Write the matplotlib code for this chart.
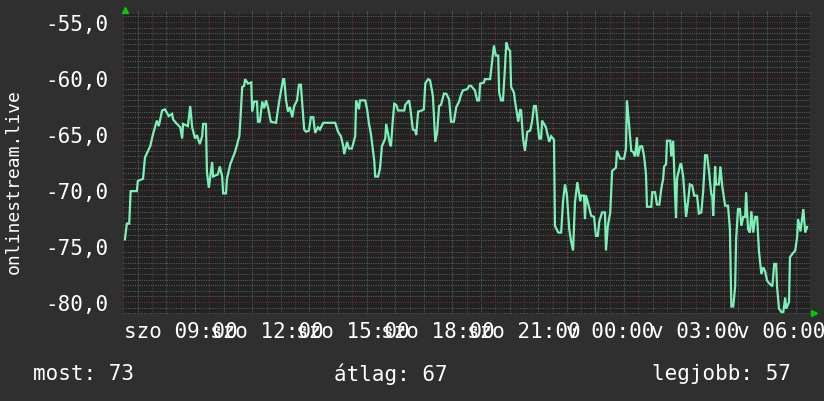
import numpy as np
import matplotlib
matplotlib.use("Agg")
import matplotlib.pyplot as plt
from matplotlib.ticker import MultipleLocator, FuncFormatter

# minutes since sat 07:00, signal value
minutes = [3, 7, 12, 15, 28, 30, 41, 45, 56, 62, 70, 74, 81, 87, 95, 102, 104, 112, 119, 123,
           125, 135, 140, 144, 150, 154, 160, 165, 167, 173, 175, 179, 186, 188, 198, 202, 207, 209, 215, 217,
           224, 234, 243, 245, 249, 253, 255, 261, 268, 270, 274, 280, 282, 286, 291, 295, 299, 303, 309, 320,
           324, 328, 335, 337, 341, 345, 349, 354, 358, 364, 368, 372, 377, 379, 383, 389, 393, 398, 402, 408,
           412, 419, 444, 450, 456, 461, 463, 469, 473, 479, 486, 488, 494, 496, 507, 511, 515, 519, 526, 528,
           534, 538, 542, 549, 551, 555, 559, 561, 565, 568, 572, 576, 589, 591, 599, 601, 607, 612, 614, 618,
           626, 630, 633, 639, 643, 649, 654, 658, 662, 666, 672, 677, 683, 687, 693, 698, 704, 708, 712, 721,
           725, 729, 737, 742, 746, 748, 756, 758, 769, 773, 777, 781, 786, 788, 792, 796, 800, 803, 807, 811,
           813, 819, 821, 828, 832, 834, 838, 842, 847, 853, 857, 861, 865, 872, 876, 878, 886, 893, 897, 903,
           905, 912, 918, 922, 926, 930, 935, 939, 943, 947, 952, 958, 960, 966, 968, 970, 974, 981, 987, 991,
           995, 998, 1004, 1010, 1012, 1016, 1021, 1025, 1033, 1035, 1042, 1050, 1054, 1056, 1060, 1065, 1069, 1073, 1077, 1079,
           1084, 1088, 1092, 1096, 1098, 1107, 1109, 1115, 1119, 1124, 1128, 1132, 1134, 1138, 1140, 1147, 1149, 1153, 1157, 1159,
           1161, 1168, 1170, 1174, 1180, 1184, 1188, 1193, 1197, 1203, 1207, 1212, 1216, 1220, 1224, 1228, 1233, 1235, 1237, 1241,
           1243, 1249, 1252, 1256, 1262, 1268, 1272, 1275, 1279, 1283, 1285, 1289, 1293, 1296, 1300, 1304, 1306, 1310, 1314, 1317,
           1321, 1325, 1329, 1333, 1338, 1342, 1346, 1350, 1356, 1361, 1365, 1369, 1371, 1375, 1380, 1384, 1388, 1390, 1396, 1398,
           1403, 1409, 1413, 1415, 1420, 1426, 1430, 1434]
values = [-74.4, -73.0, -73.0, -70.1, -70.1, -69.2, -69.0, -67.1, -66.1, -65.0, -63.8, -64.3, -62.9, -62.8, -63.4, -63.2, -63.7, -64.1, -64.4, -65.4,
          -64.1, -64.3, -62.5, -64.4, -65.4, -65.1, -65.9, -65.2, -64.1, -64.1, -68.4, -69.8, -67.5, -68.8, -68.6, -67.9, -68.8, -70.3, -70.3, -69.0,
          -67.7, -66.6, -65.2, -63.9, -60.8, -60.7, -60.1, -60.5, -60.4, -63.0, -62.1, -62.1, -63.9, -63.9, -62.1, -62.7, -62.0, -62.6, -63.9, -64.0,
          -62.8, -61.7, -60.1, -60.1, -62.0, -63.0, -62.6, -63.5, -62.5, -62.0, -60.6, -60.6, -63.5, -64.6, -64.8, -64.7, -63.5, -63.5, -64.9, -64.4,
          -64.6, -64.0, -64.0, -64.8, -65.2, -66.1, -66.8, -65.7, -66.3, -66.3, -65.2, -62.0, -62.8, -62.0, -62.0, -62.8, -64.1, -65.0, -67.4, -68.8,
          -68.8, -68.1, -66.1, -65.4, -64.1, -65.0, -65.9, -66.1, -63.7, -62.3, -62.4, -62.9, -62.9, -62.4, -62.0, -62.5, -64.6, -64.7, -65.1, -63.0,
          -62.9, -62.8, -60.5, -60.1, -60.2, -61.6, -65.7, -64.8, -62.5, -62.4, -61.4, -61.4, -61.9, -63.9, -63.9, -62.6, -62.1, -61.5, -61.1, -61.0,
          -60.7, -60.7, -61.1, -62.0, -62.0, -60.5, -60.4, -60.1, -60.1, -58.6, -57.1, -58.0, -58.0, -61.3, -62.0, -62.0, -59.2, -56.8, -57.4, -57.6,
          -60.8, -61.3, -62.0, -63.9, -62.8, -62.9, -65.4, -66.5, -64.8, -64.7, -63.9, -62.5, -62.5, -65.4, -65.4, -63.8, -64.4, -65.7, -65.2, -65.5,
          -73.2, -73.8, -73.8, -71.0, -69.5, -70.4, -73.5, -74.6, -75.4, -71.1, -69.3, -71.0, -70.5, -70.5, -72.6, -70.5, -71.1, -72.3, -72.4, -74.1,
          -74.1, -72.8, -72.0, -72.0, -75.4, -73.2, -72.0, -68.3, -68.0, -66.5, -67.2, -67.2, -66.3, -62.0, -63.9, -66.5, -66.6, -67.0, -65.3, -67.0,
          -66.1, -66.1, -67.0, -68.6, -71.5, -71.5, -70.2, -70.2, -71.3, -71.3, -69.9, -69.0, -67.9, -67.7, -65.6, -65.6, -67.0, -65.6, -70.5, -72.5,
          -69.0, -67.7, -67.7, -68.8, -72.4, -71.1, -69.5, -69.6, -70.5, -70.5, -72.1, -72.0, -70.1, -66.9, -66.9, -68.3, -70.4, -70.5, -72.3, -67.9,
          -69.5, -69.5, -67.9, -69.7, -71.4, -71.4, -73.5, -80.4, -80.4, -78.6, -74.4, -71.7, -71.7, -73.2, -72.4, -72.4, -70.2, -73.5, -73.8, -71.9,
          -73.8, -72.4, -72.4, -75.5, -77.5, -76.9, -77.3, -78.1, -78.4, -78.6, -76.6, -76.6, -78.7, -80.6, -80.9, -80.9, -79.6, -80.6, -80.0, -76.0,
          -75.7, -75.4, -74.2, -72.6, -73.7, -71.7, -73.8, -73.3]

y_ticks = [-80, -75, -70, -65, -60, -55]
ylabel = "onlinestream.live"
legend_items = ["most: 73", "átlag: 67", "legjobb: 57"]

BG = "#2f2f2f"
PLOT_BG = "#222222"
TXT = "#ffffff"
LINE = "#7df0b8"
MINOR = "#5c5c5c"
MAJOR = "#6e3232"
FONT = "DejaVu Sans Mono"

fig = plt.figure(figsize=(8.24, 4.02), dpi=100, facecolor=BG)
ax = fig.add_axes([123.5 / 824, 1 - 315 / 402, (810 - 123.5) / 824, 300 / 402])
ax.set_facecolor(PLOT_BG)

ax.set_xlim(0, 1440)
ax.set_ylim(-55 - 292 / 56 * 5, -55 + 8 / 56 * 5)

# grid: gray every 30 min / 0.5, red every hour / 5
ax.xaxis.set_major_locator(MultipleLocator(60))
ax.xaxis.set_minor_locator(MultipleLocator(30))
ax.set_yticks(y_ticks)
ax.yaxis.set_minor_locator(MultipleLocator(0.5))
ax.grid(which="minor", color=MINOR, lw=0.75, linestyle=(0, (1, 1.2)))
ax.grid(which="major", color=MAJOR, lw=0.75, linestyle=(0, (1, 1.2)))
ax.set_axisbelow(True)


def xfmt(m, pos):
    h = int(round(m / 60)) + 7
    if h % 3:
        return ""
    day = "szo" if h < 24 else "v"
    return f"{day} {h % 24:02d}:00"


ax.xaxis.set_major_formatter(FuncFormatter(xfmt))
ax.yaxis.set_major_formatter(FuncFormatter(lambda v, p: f"{v:.1f}".replace(".", ",")))

ax.tick_params(axis="both", which="both", length=0, labelcolor=TXT, labelsize=15)
# little tick marks sticking out over the top edge
ax.tick_params(axis="x", which="both", top=True, direction="out", length=2.2, width=0.75)
ax.tick_params(axis="x", which="major", color=MAJOR)
ax.tick_params(axis="x", which="minor", color=MINOR)
ax.tick_params(axis="x", which="both", bottom=False, pad=2.5)
ax.tick_params(axis="y", pad=11)
for lab in ax.get_xticklabels() + ax.get_yticklabels():
    lab.set_family(FONT)
for s in ax.spines.values():
    s.set_visible(False)

ax.plot(minutes, values, color=LINE, lw=1.6, solid_joinstyle="miter")

# arrows at axis ends
fig.add_artist(plt.Line2D([125 / 824], [1 - 11 / 402], marker="^", color="#00cc00", markersize=4, lw=0))
fig.add_artist(plt.Line2D([814 / 824], [1 - 314 / 402], marker=">", color="#00cc00", markersize=4, lw=0))

fig.text(14 / 824, 1 - 182 / 402, ylabel, rotation=90, color=TXT, family=FONT, fontsize=13,
         ha="center", va="center")

legend_x = [33, 334, 652]
for x, t in zip(legend_x, legend_items):
    fig.text(x / 824, 1 - 374 / 402, t, color=TXT, family=FONT, fontsize=15, ha="left", va="center")

plt.savefig("out.png", dpi=100, facecolor=BG)
